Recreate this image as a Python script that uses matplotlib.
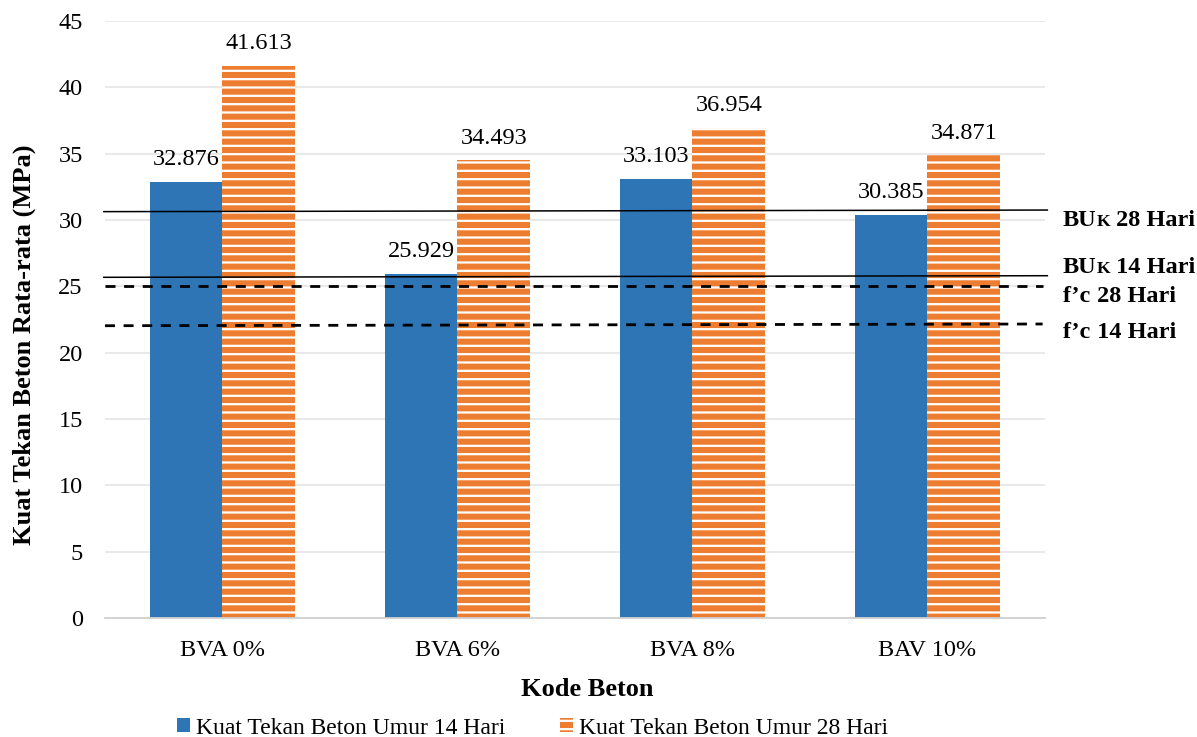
import numpy as np
import matplotlib
matplotlib.use("Agg")
import matplotlib.pyplot as plt
from matplotlib.transforms import offset_copy

plt.rcParams['font.family'] = ['Liberation Serif', 'DejaVu Serif']
plt.rcParams['hatch.color'] = 'white'
plt.rcParams['hatch.linewidth'] = 1.6

categories = ['BVA 0%', 'BVA 6%', 'BVA 8%', 'BAV 10%']
kuat_14 = [32.876, 25.929, 33.103, 30.385]
kuat_28 = [41.613, 34.493, 36.954, 34.871]

# reference lines (drawn slightly tilted in the original): start and end values
ref_pre = ['BU', 'BU', 'f’c', 'f’c']
ref_small = ['K', 'K', '', '']
ref_post = [' 28 Hari', ' 14 Hari', ' 28 Hari', ' 14 Hari']
ref_start = [30.63, 25.68, 25.05, 22.03]
ref_end = [30.75, 25.80, 25.05, 22.16]
ref_style = ['-', '-', '--', '--']
ref_label_y = [29.55, 26.0, 23.8, 21.1]

blue = '#2E75B6'
orange = '#ED7D31'
FS = 17.5

fig = plt.figure(figsize=(11.97, 7.37), dpi=100)
ax = fig.add_axes([0.0877, 0.1615, 0.7853, 0.81])

x = np.arange(len(categories))
w = 0.31
b1 = ax.bar(x - w / 2, kuat_14, w, color=blue, label='Kuat Tekan Beton Umur 14 Hari', zorder=2)
b2 = ax.bar(x + w / 2, kuat_28, w, color=orange, hatch='--', edgecolor='white', linewidth=0,
            label='Kuat Tekan Beton Umur 28 Hari', zorder=2)

for xi, v in zip(x - w / 2, kuat_14):
    ax.text(xi, v + 1.25, f'{v:.3f}', ha='center', va='baseline', fontsize=FS)
for xi, v in zip(x + w / 2, kuat_28):
    ax.text(xi, v + 1.25, f'{v:.3f}', ha='center', va='baseline', fontsize=FS)

renderer = fig.canvas.get_renderer()
for pre, small, post, s, e, ls, ly in zip(ref_pre, ref_small, ref_post, ref_start, ref_end,
                                          ref_style, ref_label_y):
    if ls == '-':
        ax.plot([-0.505, 3.51], [s, e], color='black', lw=1.1, ls='-', clip_on=False, zorder=3)
    else:
        ax.plot([-0.50, 3.49], [s, e], color='black', lw=2.0, ls=(0, (3.6, 3.1)), clip_on=False, zorder=3)
    # label built from pieces so the K can be a smaller capital on the baseline
    t = ax.text(3.575, ly, pre, ha='left', va='baseline', fontsize=FS, fontweight='bold')
    dx = t.get_window_extent(renderer).width * 72 / fig.dpi
    if small:
        tr = offset_copy(ax.transData, fig=fig, x=dx, y=0, units='points')
        t2 = ax.text(3.575, ly, small, ha='left', va='baseline', fontsize=FS * 0.72,
                     fontweight='bold', transform=tr)
        dx += t2.get_window_extent(renderer).width * 72 / fig.dpi
    tr = offset_copy(ax.transData, fig=fig, x=dx, y=0, units='points')
    ax.text(3.575, ly, post, ha='left', va='baseline', fontsize=FS, fontweight='bold', transform=tr)

ax.set_xlim(-0.5, 3.5)
ax.set_ylim(0, 45)
ax.set_yticks(np.arange(0, 46, 5))
ax.set_xticks(x)
ax.set_xticklabels(categories)
ax.tick_params(axis='both', length=0, labelsize=FS)
ax.tick_params(axis='x', pad=16)
ax.tick_params(axis='y', pad=16)
ax.yaxis.grid(True, color='#E5E5E5', lw=1.2, zorder=0)
ax.set_axisbelow(True)
for sp in ['top', 'right', 'left']:
    ax.spines[sp].set_visible(False)
ax.spines['bottom'].set_color('#D0D0D0')
ax.spines['bottom'].set_linewidth(1.3)

ax.set_xlabel('Kode Beton', fontsize=19, fontweight='bold', va='center')
ax.xaxis.set_label_coords(0.513, -0.12)
ax.set_ylabel('Kuat Tekan Beton Rata-rata (MPa)', fontsize=19, fontweight='bold', va='center')
ax.yaxis.set_label_coords(-0.086, 0.457)

fig.legend(handles=[b1, b2], loc='center', bbox_to_anchor=(0.445, 0.012), ncol=2, frameon=False,
           fontsize=17, handlelength=0.55, handleheight=0.55, handletextpad=0.25, columnspacing=2.3,
           borderpad=0, borderaxespad=0)

fig.savefig('out.png', dpi=100)
